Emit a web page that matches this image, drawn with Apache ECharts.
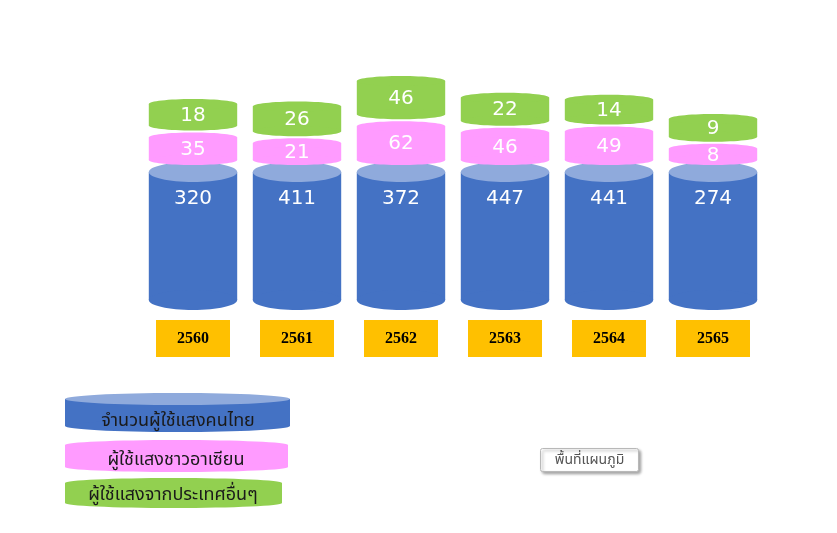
<!DOCTYPE html>
<html><head><meta charset="utf-8">
<script src="https://cdn.jsdelivr.net/npm/echarts@6/dist/echarts.min.js"></script>
<style>html,body{margin:0;padding:0;background:#fff}#c{width:837px;height:533px}</style>
</head><body><div id="c"></div>
<script>
const years = ['2560', '2561', '2562', '2563', '2564', '2565'];
const thaiUsers = [320, 411, 372, 447, 441, 274];
const aseanUsers = [35, 21, 62, 46, 49, 8];
const otherUsers = [18, 26, 46, 22, 14, 9];
const seriesNames = ['จำนวนผู้ใช้แสงคนไทย', 'ผู้ใช้แสงชาวอาเซียน', 'ผู้ใช้แสงจากประเทศอื่นๆ'];
const chartAreaTip = 'พื้นที่แผนภูมิ';

const BLUE = '#4472C4', BLUE_TOP = '#8FAADC', PINK = '#FF9BFF', GREEN = '#92D050';
const FONT = '"DejaVu Sans", Tahoma, "Noto Sans Thai", sans-serif';
const BLUE_TOP_Y = 172, BLUE_BOT_Y = 300, RY = 10, PINK_BOT = 165, GAP = 2;
const PINK_PAD = 18, GREEN_PAD = 24, CAP = 5;

function cap(cx, w, top, bottom, color) {
  return [
    {type: 'rect', shape: {x: cx - w / 2, y: top + CAP, width: w, height: bottom - top - 2 * CAP}, style: {fill: color}},
    {type: 'ellipse', shape: {cx: cx, cy: top + CAP, rx: w / 2, ry: CAP}, style: {fill: color}},
    {type: 'ellipse', shape: {cx: cx, cy: bottom - CAP, rx: w / 2, ry: CAP}, style: {fill: color}}
  ];
}
function label(cx, cy, v) {
  return {type: 'text', z2: 10, style: {text: String(v), x: cx, y: cy, fill: '#fff', font: '20px ' + FONT, align: 'center', verticalAlign: 'middle'}};
}
function geom(api, i) {
  const cx = api.coord([i, 0])[0];
  const w = api.size([1, 0])[0] * 0.85;
  const hp = PINK_PAD + api.size([0, aseanUsers[i]])[1];
  const pinkTop = PINK_BOT - hp;
  const greenBot = pinkTop - GAP;
  const hg = GREEN_PAD + api.size([0, otherUsers[i]])[1];
  return {cx, w, pinkTop, greenBot, greenTop: greenBot - hg};
}

const chart = echarts.init(document.getElementById('c'));
chart.setOption({
  animation: false,
  grid: {left: 141, right: 72, top: 60, bottom: 223},
  xAxis: {
    type: 'category', data: years,
    axisLine: {show: false}, axisTick: {show: false},
    axisLabel: {margin: 10, backgroundColor: '#FFC000', padding: [11, 21, 10, 21],
      color: '#000', fontWeight: 'bold', fontSize: 16, fontFamily: '"Liberation Serif", "Times New Roman", serif'}
  },
  yAxis: {type: 'value', min: 0, max: 600, show: false},
  series: [
    {name: seriesNames[0], type: 'custom', data: thaiUsers.map((v, i) => [i, v]),
     renderItem: (params, api) => {
       const i = params.dataIndex, g = geom(api, i);
       return {type: 'group', children: [
         {type: 'rect', shape: {x: g.cx - g.w / 2, y: BLUE_TOP_Y, width: g.w, height: BLUE_BOT_Y - BLUE_TOP_Y}, style: {fill: BLUE}},
         {type: 'ellipse', shape: {cx: g.cx, cy: BLUE_BOT_Y, rx: g.w / 2, ry: RY}, style: {fill: BLUE}},
         {type: 'ellipse', shape: {cx: g.cx, cy: BLUE_TOP_Y, rx: g.w / 2, ry: RY}, style: {fill: BLUE_TOP}},
         label(g.cx, BLUE_TOP_Y + 27, thaiUsers[i])
       ]};
     }},
    {name: seriesNames[1], type: 'custom', data: aseanUsers.map((v, i) => [i, v]), z: 3,
     renderItem: (params, api) => {
       const i = params.dataIndex, g = geom(api, i);
       return {type: 'group', children: cap(g.cx, g.w, g.pinkTop, PINK_BOT, PINK).concat([label(g.cx, (g.pinkTop + PINK_BOT) / 2 + 1, aseanUsers[i])])};
     }},
    {name: seriesNames[2], type: 'custom', data: otherUsers.map((v, i) => [i, v]), z: 3,
     renderItem: (params, api) => {
       const i = params.dataIndex, g = geom(api, i);
       return {type: 'group', children: cap(g.cx, g.w, g.greenTop, g.greenBot, GREEN).concat([label(g.cx, (g.greenTop + g.greenBot) / 2 + 1, otherUsers[i])])};
     }}
  ],
  graphic: [
    {type: 'group', left: 65, top: 393, children: [
      {type: 'rect', shape: {x: 0, y: 6, width: 225, height: 27}, style: {fill: BLUE}},
      {type: 'ellipse', shape: {cx: 112.5, cy: 33, rx: 112.5, ry: 6}, style: {fill: BLUE}},
      {type: 'ellipse', shape: {cx: 112.5, cy: 6, rx: 112.5, ry: 6}, style: {fill: BLUE_TOP}},
      {type: 'text', style: {text: seriesNames[0], x: 113, y: 28, fill: '#1a1a1a', font: '18px ' + FONT, align: 'center', verticalAlign: 'middle'}}
    ]},
    {type: 'group', left: 65, top: 440, children: [
      {type: 'rect', shape: {x: 0, y: 5, width: 223, height: 22}, style: {fill: PINK}},
      {type: 'ellipse', shape: {cx: 111.5, cy: 5, rx: 111.5, ry: 5}, style: {fill: PINK}},
      {type: 'ellipse', shape: {cx: 111.5, cy: 27, rx: 111.5, ry: 5}, style: {fill: PINK}},
      {type: 'text', style: {text: seriesNames[1], x: 111, y: 20, fill: '#1a1a1a', font: '18px ' + FONT, align: 'center', verticalAlign: 'middle'}}
    ]},
    {type: 'group', left: 65, top: 478, children: [
      {type: 'rect', shape: {x: 0, y: 5, width: 217, height: 20}, style: {fill: GREEN}},
      {type: 'ellipse', shape: {cx: 108.5, cy: 5, rx: 108.5, ry: 5}, style: {fill: GREEN}},
      {type: 'ellipse', shape: {cx: 108.5, cy: 25, rx: 108.5, ry: 5}, style: {fill: GREEN}},
      {type: 'text', style: {text: seriesNames[2], x: 108, y: 17, fill: '#1a1a1a', font: '18px ' + FONT, align: 'center', verticalAlign: 'middle'}}
    ]},
    {type: 'group', left: 540, top: 448, children: [
      {type: 'rect', shape: {x: 0, y: 0, width: 98, height: 23, r: 2}, style: {fill: '#fff', stroke: '#b8b8b8', lineWidth: 1, shadowBlur: 3, shadowOffsetX: 2, shadowOffsetY: 2, shadowColor: 'rgba(0,0,0,0.35)'}},
      {type: 'text', style: {text: chartAreaTip, x: 49, y: 12, fill: '#555', font: '14px ' + FONT, align: 'center', verticalAlign: 'middle'}}
    ]}
  ]
});
</script></body></html>
